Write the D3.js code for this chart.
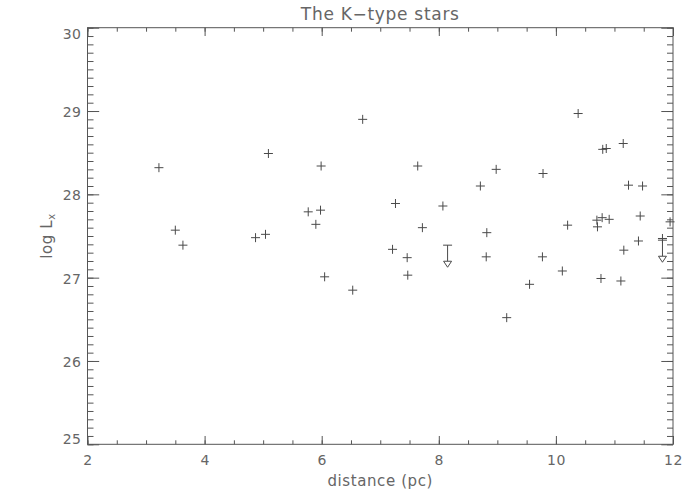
<!DOCTYPE html>
<html>
<head>
<meta charset="utf-8">
<script src="https://cdn.jsdelivr.net/npm/d3@7"></script>
<style>
    body { margin: 0; background: #fff; }
    text { font-family: "DejaVu Sans", sans-serif; fill: #666; }
</style>
</head>
<body>
<div id="chart"></div>
<script>
// Values
var distance = [3.22, 3.50, 3.63, 4.87, 5.04, 5.09, 5.77, 5.98, 5.90, 5.99,
    6.05, 6.70, 6.53, 7.21, 7.26, 7.46, 7.47, 7.64, 7.72, 8.07,
    8.71, 8.82, 8.81, 8.98, 9.16, 9.55, 9.78, 9.77, 10.11, 10.20,
    10.38, 10.70, 10.71, 10.79, 10.77, 10.80, 10.86, 10.91, 11.11, 11.15,
    11.16, 11.24, 11.41, 11.44, 11.48, 11.82, 11.95]
var logLx = [28.32, 27.57, 27.39, 27.48, 27.52, 28.49, 27.79, 27.81, 27.64, 28.34,
    27.01, 28.90, 26.85, 27.34, 27.89, 27.24, 27.03, 28.34, 27.60, 27.86,
    28.10, 27.54, 27.25, 28.30, 26.52, 26.92, 28.25, 27.25, 27.08, 27.63,
    28.97, 27.69, 27.61, 27.72, 26.99, 28.54, 28.55, 27.70, 26.96, 28.61,
    27.33, 28.11, 27.44, 27.74, 28.10, 27.47, 27.67]

// upper limits
var limitDistance = [8.15, 11.82]
var limitLogLx = [27.39, 27.45]

var xTicks = [2, 4, 6, 8, 10, 12]
var yTicks = [25, 26, 27, 28, 29, 30]

// (window.top is taken, so the edges get their own names)
var width = 700,
    height = 500,
    plotLeft = 87.5,
    plotRight = 673,
    plotTop = 27.7,
    plotBottom = 444.3

var arrowLen = 0.265,
    plusSize = 4.5,
    ink = '#4a4a4a'

var x = d3.scaleLinear().domain([2, 12]).range([plotLeft, plotRight])
var y = d3.scaleLinear().domain([25, 30]).range([plotBottom, plotTop])

var svg = d3.select('#chart')
    .append('svg')
    .attr('width', width)
    .attr('height', height)

// minor ticks: 0.5 on x, 0.1 on y
var xMinor = d3.range(2, 12.001, 0.5)
var yMinor = d3.range(25, 30.001, 0.1)

var axisStyle = function (g) {
    g.select('.domain').remove()
    g.selectAll('line').attr('stroke', '#555')
    g.selectAll('text').style('font-size', '14px').style('letter-spacing', '0.5px')
}

// bottom axis, ticks pointing inward
svg.append('g')
    .attr('transform', 'translate(0,' + plotBottom + ')')
    .call(d3.axisBottom(x).tickValues(xMinor).tickSize(-4).tickFormat(''))
    .call(axisStyle)
svg.append('g')
    .attr('transform', 'translate(0,' + plotBottom + ')')
    .call(d3.axisBottom(x).tickValues(xTicks).tickSize(-8.3).tickPadding(11).tickFormat(d3.format('d')))
    .call(axisStyle)

// top axis
svg.append('g')
    .attr('transform', 'translate(0,' + plotTop + ')')
    .call(d3.axisTop(x).tickValues(xMinor).tickSize(-4).tickFormat(''))
    .call(axisStyle)
svg.append('g')
    .attr('transform', 'translate(0,' + plotTop + ')')
    .call(d3.axisTop(x).tickValues(xTicks).tickSize(-8.3).tickFormat(''))
    .call(axisStyle)

// left axis
svg.append('g')
    .attr('transform', 'translate(' + plotLeft + ',0)')
    .call(d3.axisLeft(y).tickValues(yMinor).tickSize(-6).tickFormat(''))
    .call(axisStyle)
var yAxis = svg.append('g')
    .attr('transform', 'translate(' + plotLeft + ',0)')
    .call(d3.axisLeft(y).tickValues(yTicks).tickSize(-11.7).tickPadding(6).tickFormat(d3.format('d')))
    .call(axisStyle)

// keep the end labels inside the frame, as the original does
yAxis.selectAll('.tick text')
    .attr('dy', function (d) {
        if (d === 30) return '0.75em'
        if (d === 25) return '-0.05em'
        return '0.4em'
    })

// right axis
svg.append('g')
    .attr('transform', 'translate(' + plotRight + ',0)')
    .call(d3.axisRight(y).tickValues(yMinor).tickSize(-6).tickFormat(''))
    .call(axisStyle)
svg.append('g')
    .attr('transform', 'translate(' + plotRight + ',0)')
    .call(d3.axisRight(y).tickValues(yTicks).tickSize(-11.7).tickFormat(''))
    .call(axisStyle)

// frame
svg.append('rect')
    .attr('x', plotLeft)
    .attr('y', plotTop)
    .attr('width', plotRight - plotLeft)
    .attr('height', plotBottom - plotTop)
    .attr('fill', 'none')
    .attr('stroke', '#555')

// plus markers
svg.append('g')
    .selectAll('path')
    .data(d3.range(distance.length))
    .enter()
    .append('path')
    .attr('transform', function (i) { return 'translate(' + x(distance[i]) + ',' + y(logLx[i]) + ')' })
    .attr('d', 'M' + (-plusSize) + ',0H' + plusSize + 'M0,' + (-plusSize) + 'V' + plusSize)
    .attr('stroke', ink)
    .attr('fill', 'none')

// upper limit arrows
var limits = svg.append('g')
    .selectAll('g')
    .data(d3.range(limitDistance.length))
    .enter()
    .append('g')
    .attr('transform', function (i) { return 'translate(' + x(limitDistance[i]) + ',' + y(limitLogLx[i]) + ')' })

limits.append('path')
    .attr('d', function (i) {
        var len = y(limitLogLx[i] - arrowLen) - y(limitLogLx[i])
        return 'M-4.5,0H4.5M0,0V' + (len - 6)
    })
    .attr('stroke', ink)
    .attr('fill', 'none')

limits.append('path')
    .attr('d', function (i) {
        var len = y(limitLogLx[i] - arrowLen) - y(limitLogLx[i])
        return 'M-4,' + (len - 6) + 'H4L0,' + len + 'Z'
    })
    .attr('stroke', ink)
    .attr('fill', '#fff')

// titles
svg.append('text')
    .attr('x', (plotLeft + plotRight) / 2)
    .attr('y', 20)
    .attr('text-anchor', 'middle')
    .style('font-size', '17px')
    .style('letter-spacing', '0.7px')
    .text('The K\u2212type stars')

svg.append('text')
    .attr('x', (plotLeft + plotRight) / 2)
    .attr('y', 486)
    .attr('text-anchor', 'middle')
    .style('font-size', '15px')
    .style('letter-spacing', '0.6px')
    .text('distance (pc)')

var yLabel = svg.append('text')
    .attr('transform', 'translate(52,' + ((plotTop + plotBottom) / 2) + ') rotate(-90)')
    .attr('text-anchor', 'middle')
    .style('font-size', '15px')
    .style('letter-spacing', '0.6px')
yLabel.append('tspan').text('log L')
yLabel.append('tspan')
    .attr('dy', '0.3em')
    .style('font-size', '10px')
    .text('x')
</script>
</body>
</html>
